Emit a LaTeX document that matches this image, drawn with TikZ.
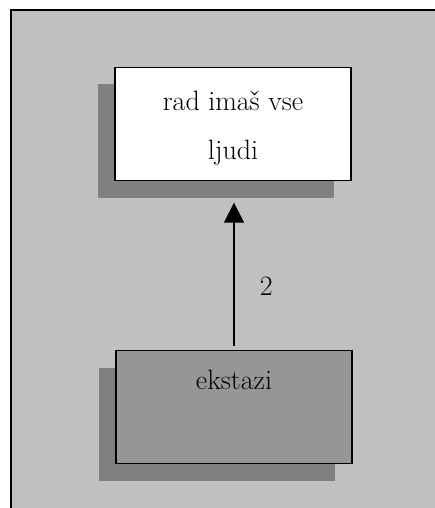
\documentclass[tikz,border=0pt]{standalone}
\usetikzlibrary{shadows,arrows.meta}
\definecolor{bggray}{RGB}{192,192,192}
\definecolor{shadowgray}{RGB}{128,128,128}
\definecolor{boxgray}{RGB}{150,150,150}
\begin{document}
\begin{tikzpicture}[x=1pt,y=-1pt,
    box/.style={rectangle,draw=black,line width=1.3pt,minimum width=236pt,minimum height=113pt,align=center,
        font=\fontsize{28}{49}\selectfont,
        drop shadow={shadow xshift=-17pt,shadow yshift=-17pt,fill=shadowgray,opacity=1}},
    link/.style={line width=1.3pt,-{Triangle[length=20pt,width=20pt]}}]
        \useasboundingbox (0,0) rectangle (435,508);
        \draw[fill=bggray,line width=1.5pt] (11,10) rectangle (450,530);
        \node[box,fill=white] (love) at (233,124) {\rule{0pt}{28pt}rad imaš vse\\ljudi};
        \node[box,fill=boxgray] (ecstasy) at (234,407) {\rule{0pt}{28pt}ekstazi\\\strut};
        \draw [link,shorten <=4pt,shorten >=21.5pt] (ecstasy.north) -- (ecstasy.north |- love.south)
            node[pos=0.38,right=22pt,font=\fontsize{28}{32}\selectfont] {2};
    \end{tikzpicture}
\end{document}
